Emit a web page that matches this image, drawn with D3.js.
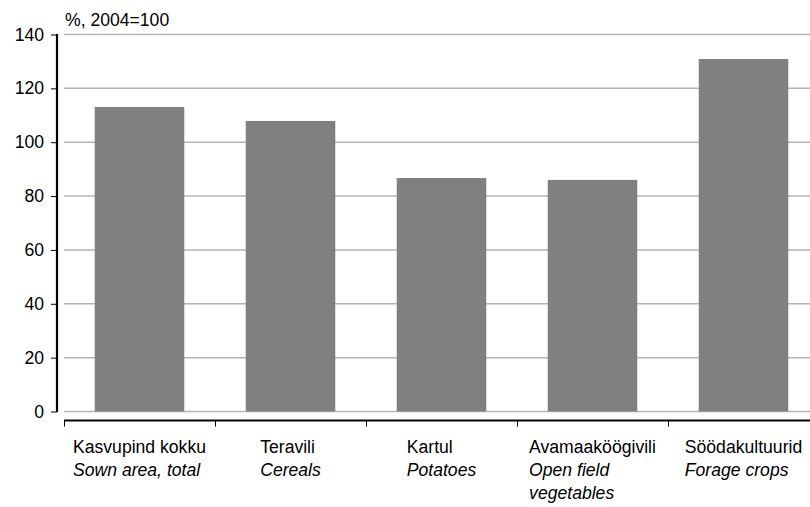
<!DOCTYPE html>
<html>
<head>
<meta charset="utf-8">
<script src="https://cdn.jsdelivr.net/npm/d3@7"></script>
<style>
    body { margin: 0; background: #fff; }
    text { font-family: "Liberation Sans", Arial, sans-serif; fill: #000; }
</style>
</head>
<body>
<svg id="mainSvg"></svg>
<script>
// data
const categories = ['Kasvupind kokku', 'Teravili', 'Kartul', 'Avamaaköögivili', 'Söödakultuurid'];
const categoriesEn = [['Sown area, total'], ['Cereals'], ['Potatoes'], ['Open field', 'vegetables'], ['Forage crops']];
const values = [113.1, 107.9, 86.7, 86.0, 130.9];
const yTicks = [0, 20, 40, 60, 80, 100, 120, 140];
const unitLabel = '%, 2004=100';

const style = {
    svgW: 810,
    svgH: 507,
    plot: { l: 64, r: 819, t: 34.5, b: 411.5 },
    yAxisX: 57,
    xAxisY: 420.5,
    font: 17.6,
    barColor: '#808080',
    gridColor: '#b4b4b4',
}

const svg = d3.select('#mainSvg')
    .attr('width', style.svgW)
    .attr('height', style.svgH)

const x = d3.scaleBand()
    .domain(categories)
    .range([style.plot.l, style.plot.r])
    .paddingInner(0.407)
    .paddingOuter(0.2035)

const y = d3.scaleLinear()
    .domain([0, 140])
    .range([style.plot.b, style.plot.t])

// grid lines
svg.append('g')
    .selectAll('line')
    .data(yTicks)
    .join('line')
    .attr('x1', style.plot.l)
    .attr('x2', style.svgW)
    .attr('y1', d => y(d))
    .attr('y2', d => y(d))
    .attr('stroke', style.gridColor)
    .attr('stroke-width', 1.5)

// bars
svg.append('g')
    .selectAll('rect')
    .data(values)
    .join('rect')
    .attr('x', (d, i) => x(categories[i]))
    .attr('width', x.bandwidth())
    .attr('y', d => y(d))
    .attr('height', d => y(0) - y(d))
    .attr('fill', style.barColor)

// y axis
const yAxis = d3.axisLeft(y)
    .tickValues(yTicks)
    .tickSize(6)
    .tickPadding(7)
    .tickFormat(d3.format('d'))

const yG = svg.append('g')
    .attr('transform', `translate(${style.yAxisX},0)`)
    .call(yAxis)
yG.select('.domain').remove()
yG.append('line')
    .attr('y1', y(140) - 0.5)
    .attr('y2', y(0) + 0.5)
    .attr('stroke', '#000')
    .attr('stroke-width', 2.2)
yG.selectAll('.tick line').attr('stroke', '#000').attr('stroke-width', 1)
yG.selectAll('.tick text')
    .attr('font-size', style.font)
    .attr('font-family', '"Liberation Sans", Arial, sans-serif')
    .attr('fill', '#000')

svg.append('text')
    .attr('x', 65)
    .attr('y', 26)
    .attr('font-size', style.font)
    .text(unitLabel)

// x axis
const step = x.step()
const boundaries = categories.map(c => x(c) - step * x.paddingInner() / 2)

svg.append('line')
    .attr('x1', style.plot.l)
    .attr('x2', style.svgW)
    .attr('y1', style.xAxisY)
    .attr('y2', style.xAxisY)
    .attr('stroke', '#000')
    .attr('stroke-width', 2.2)

svg.append('g')
    .selectAll('line')
    .data(boundaries)
    .join('line')
    .attr('x1', d => Math.round(d) + 0.5)
    .attr('x2', d => Math.round(d) + 0.5)
    .attr('y1', style.xAxisY)
    .attr('y2', style.xAxisY + 6)
    .attr('stroke', '#000')
    .attr('stroke-width', 1)

// category labels: block centred in band, lines left-aligned
const labelG = svg.append('g')
categories.forEach(function (c, i) {
    const g = labelG.append('g')
    const lines = [{ t: c, it: false }].concat(categoriesEn[i].map(t => ({ t: t, it: true })))
    lines.forEach(function (ln, j) {
        g.append('text')
            .attr('x', 0)
            .attr('y', 453 + j * 23)
            .attr('font-size', style.font)
            .attr('font-style', ln.it ? 'italic' : 'normal')
            .text(ln.t)
    })
    const w = d3.max(g.selectAll('text').nodes(), n => n.getComputedTextLength())
    const cx = x(c) + x.bandwidth() / 2
    g.attr('transform', `translate(${cx - w / 2},0)`)
})
</script>
</body>
</html>
